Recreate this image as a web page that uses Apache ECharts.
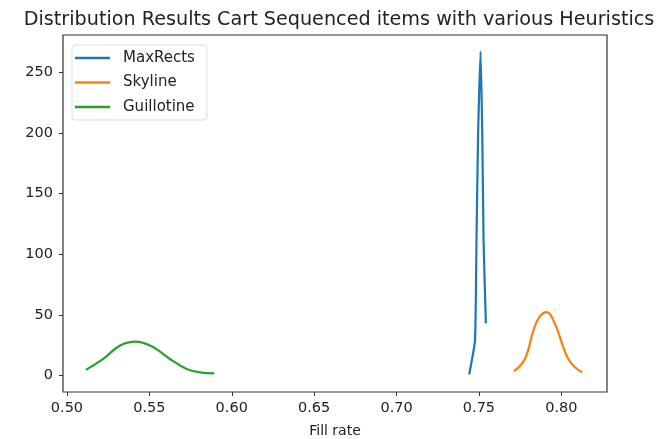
<!DOCTYPE html>
<html>
<head>
<meta charset="utf-8">
<script src="https://cdn.jsdelivr.net/npm/echarts@6/dist/echarts.min.js"></script>
<style>
  html, body { margin: 0; padding: 0; background: #fff; }
  #chart { width: 658px; height: 439px; }
</style>
</head>
<body>
<div id="chart"></div>
<script>
var seriesNames = ['MaxRects', 'Skyline', 'Guillotine'];
var seriesColors = ['#1f77b4', '#ff7f0e', '#2ca02c'];

// [fill rate, density]
var maxRects = [
  [0.7441, 1], [0.7476, 29], [0.7485, 111], [0.7495, 200], [0.7510, 267],
  [0.7520, 200], [0.7528, 111], [0.7542, 43]
];
var skyline = [
  [0.7712, 3.5], [0.7779, 13.7], [0.7830, 37.1], [0.7866, 48.1], [0.7911, 52.2],
  [0.7961, 42.6], [0.8012, 23.4], [0.8042, 13.7], [0.8083, 6.9], [0.8127, 2.7]
];
var guillotine = [
  [0.5115, 4.7], [0.5220, 13.7], [0.5322, 24.8], [0.5417, 28.0], [0.5524, 23.4],
  [0.5625, 13.7], [0.5726, 5.5], [0.5807, 2.7], [0.5894, 1.9]
];

var xTicks = [0.50, 0.55, 0.60, 0.65, 0.70, 0.75, 0.80];
var yTicks = [0, 50, 100, 150, 200, 250];

var allData = [maxRects, skyline, guillotine];
var series = [];
for (var i = 0; i < allData.length; i++) {
  series.push({
    name: seriesNames[i],
    type: 'line',
    showSymbol: false,
    smooth: i == 0 ? 0.15 : 0.4,
    lineStyle: { width: 2.2, color: seriesColors[i] },
    itemStyle: { color: seriesColors[i] },
    data: allData[i]
  });
}

var myChart = echarts.init(document.getElementById('chart'));
var option = {
  animation: false,
  textStyle: { fontFamily: 'DejaVu Sans' },
  title: {
    text: 'Distribution Results Cart Sequenced items with various Heuristics',
    left: 334,
    textAlign: 'center',
    top: 6,
    textStyle: { fontSize: 19.2, fontWeight: 'normal', color: '#222', fontFamily: 'DejaVu Sans' }
  },
  legend: {
    left: 72,
    top: 45,
    orient: 'vertical',
    icon: 'rect',
    itemWidth: 35,
    itemHeight: 2.5,
    itemGap: 8.5,
    padding: [5, 12, 5, 3],
    borderColor: '#ddd',
    borderWidth: 1,
    borderRadius: 3,
    backgroundColor: '#fff',
    textStyle: { fontSize: 15, lineHeight: 16, color: '#222', padding: [0, 0, 0, 8] },
    data: seriesNames
  },
  grid: {
    left: 63, right: 51, top: 35, bottom: 47,
    containLabel: false,
    outerBoundsMode: 'none',
    show: true, borderColor: '#333', borderWidth: 1.2
  },
  xAxis: {
    type: 'value',
    min: 0.4976,
    max: 0.8277,
    name: 'Fill rate',
    nameLocation: 'middle',
    nameGap: 32,
    nameTextStyle: { fontSize: 14, color: '#222' },
    axisLine: { show: false, onZero: false },
    splitLine: { show: false },
    axisTick: { show: true, length: 4, lineStyle: { color: '#333' }, customValues: xTicks },
    axisLabel: {
      color: '#222', fontSize: 14.5, margin: 9, customValues: xTicks,
      formatter: function (v) { return v.toFixed(2); }
    }
  },
  yAxis: {
    type: 'value',
    min: -13.5,
    max: 280.5,
    axisLine: { show: false, onZero: false },
    splitLine: { show: false },
    axisTick: { show: true, length: 4, lineStyle: { color: '#333' }, customValues: yTicks },
    axisLabel: { color: '#222', fontSize: 14.5, margin: 10, customValues: yTicks }
  },
  series: series
};
myChart.setOption(option);
</script>
</body>
</html>
